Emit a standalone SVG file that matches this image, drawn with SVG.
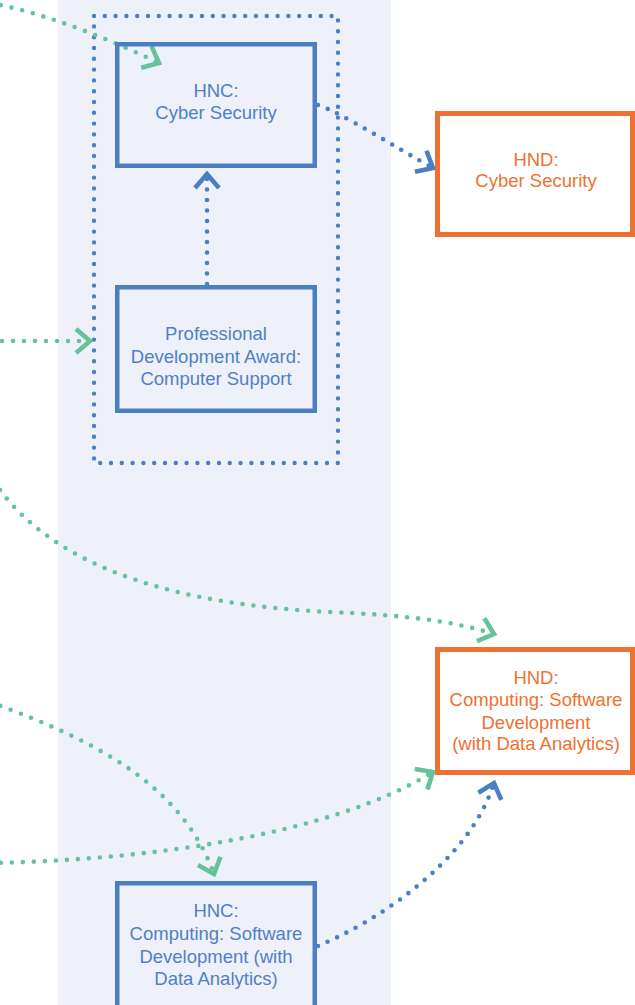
<svg xmlns="http://www.w3.org/2000/svg" width="635" height="1005" viewBox="0 0 635 1005">
<style>
.box{fill:none;stroke:#4a7fc2;stroke-width:4.5}
.hnd{fill:#ffffff;stroke:#ef7131;stroke-width:5}
.tb{font-family:"Liberation Sans",Arial,sans-serif;font-size:18.5px;fill:#4f80c6;text-anchor:middle}
.to{font-family:"Liberation Sans",Arial,sans-serif;font-size:18.5px;fill:#ef7131;text-anchor:middle}
.g{fill:none;stroke:#66c29b;stroke-width:4.6;stroke-linecap:round;stroke-dasharray:0 11}
.b{fill:none;stroke:#4a7fc2;stroke-width:4.6;stroke-linecap:round;stroke-dasharray:0 10.5}
.grp{fill:none;stroke:#4a7fc2;stroke-width:4.4;stroke-linecap:round;stroke-dasharray:0 10.8}
</style>
<defs>
<marker id="ag" markerUnits="userSpaceOnUse" viewBox="-16 -14 20 28" refX="0" refY="0" markerWidth="20" markerHeight="28" orient="auto" overflow="visible">
<path d="M-14,-12 L0,0 L-14,12" fill="none" stroke="#66c29b" stroke-width="4.6"/>
</marker>
<marker id="ab" markerUnits="userSpaceOnUse" viewBox="-16 -14 20 28" refX="0" refY="0" markerWidth="20" markerHeight="28" orient="auto" overflow="visible">
<path d="M-14,-12 L0,0 L-14,12" fill="none" stroke="#4a7fc2" stroke-width="4.6"/>
</marker>
</defs>
<rect x="58" y="0" width="333" height="1005" fill="#eef1fa"/>
<g id="group-cyber">
<rect class="grp" x="94" y="16" width="244" height="447"/>
</g>
<g id="connectors">
<path class="g" d="M-10,3 C50,14 115,42 159,63" marker-end="url(#ag)"/>
<path class="g" d="M2,341 L90,341" marker-end="url(#ag)"/>
<path class="g" d="M0,490 C60,570 180,605 330,612 C400,615 450,620 494,634" marker-end="url(#ag)"/>
<path class="g" d="M-10,702 C85,737 180,780 214,874" marker-end="url(#ag)"/>
<path class="g" d="M-10,863 C150,860 330,835 433,772" marker-end="url(#ag)"/>
<path class="b" d="M207,284 L207,174" marker-end="url(#ab)"/>
<path class="b" d="M318,105 C340,112 400,150 433,168" marker-end="url(#ab)"/>
<path class="b" d="M318,946 C380,920 470,860 494,783" marker-end="url(#ab)"/>
</g>
<g id="hnc-cyber">
<rect class="box" x="117.25" y="44.25" width="197.5" height="121.5"/>
<text class="tb" x="216" y="96.5">HNC:</text>
<text class="tb" x="216" y="118.5">Cyber Security</text>
</g>
<g id="pda">
<rect class="box" x="117.25" y="287.25" width="197.5" height="123.5"/>
<text class="tb" x="216" y="339.5">Professional</text>
<text class="tb" x="216" y="362.5">Development Award:</text>
<text class="tb" x="216" y="384.5">Computer Support</text>
</g>
<g id="hnc-computing">
<rect class="box" x="117.25" y="883.25" width="197.5" height="140"/>
<text class="tb" x="216" y="916.5">HNC:</text>
<text class="tb" x="216" y="939.5">Computing: Software</text>
<text class="tb" x="216" y="962.5">Development (with</text>
<text class="tb" x="216" y="984.5">Data Analytics)</text>
</g>
<g id="hnd-cyber">
<rect class="hnd" x="437.5" y="113.5" width="195" height="121"/>
<text class="to" x="536" y="165.5">HND:</text>
<text class="to" x="536" y="186.5">Cyber Security</text>
</g>
<g id="hnd-computing">
<rect class="hnd" x="437.5" y="649.5" width="195" height="123"/>
<text class="to" x="536" y="683.5">HND:</text>
<text class="to" x="536" y="705.5">Computing: Software</text>
<text class="to" x="536" y="728.5">Development</text>
<text class="to" x="536" y="749.5">(with Data Analytics)</text>
</g>
</svg>
